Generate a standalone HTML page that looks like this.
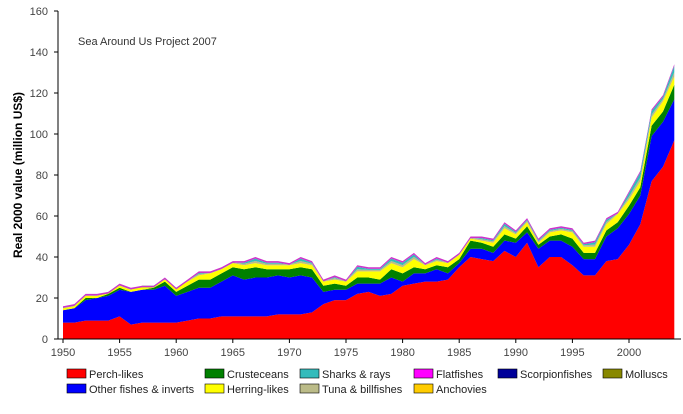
<!DOCTYPE html>
<html><head><meta charset="utf-8"><style>
body{margin:0;background:#fff;}
svg text{font-family:"Liberation Sans",Arial,sans-serif;}
</style></head><body>
<svg id="s" width="683" height="409" xmlns="http://www.w3.org/2000/svg">
<g id="areas"></g>
<line x1="58" y1="11" x2="58" y2="339" stroke="#000" stroke-width="1"/>
<line x1="58" y1="339" x2="681" y2="339" stroke="#000" stroke-width="1"/>
<g id="ticks" font-size="11" fill="#444"></g>
<text x="78" y="45" font-size="11" fill="#333">Sea Around Us Project 2007</text>
<text transform="translate(22,175) rotate(-90)" text-anchor="middle" font-size="12" font-weight="bold" fill="#000">Real 2000 value (million US$)</text>
<g font-size="11" fill="#222" stroke="#000" stroke-width="0.6">
<rect x="67" y="369" width="19" height="9" fill="#ff0000"/>
<rect x="67" y="384" width="19" height="9" fill="#0000ff"/>
<rect x="205" y="369" width="19" height="9" fill="#008000"/>
<rect x="205" y="384" width="19" height="9" fill="#ffff00"/>
<rect x="300" y="369" width="19" height="9" fill="#33bbbb"/>
<rect x="300" y="384" width="19" height="9" fill="#bbbb88"/>
<rect x="414" y="369" width="19" height="9" fill="#ff00ff"/>
<rect x="414" y="384" width="19" height="9" fill="#ffcc00"/>
<rect x="498" y="369" width="19" height="9" fill="#000099"/>
<rect x="603" y="369" width="19" height="9" fill="#888800"/>
</g>
<g font-size="11" fill="#222">
<text x="89" y="378">Perch-likes</text>
<text x="89" y="393">Other fishes &amp; inverts</text>
<text x="227" y="378">Crusteceans</text>
<text x="227" y="393">Herring-likes</text>
<text x="322" y="378">Sharks &amp; rays</text>
<text x="322" y="393">Tuna &amp; billfishes</text>
<text x="436" y="378">Flatfishes</text>
<text x="436" y="393">Anchovies</text>
<text x="520" y="378">Scorpionfishes</text>
<text x="625" y="378">Molluscs</text>
</g>
</svg>
<script>
var d=[[8,14,14,15,16],[8,15,15,16,17],[9,19,20,21,22],[9,20,20,21,22],[9,21,22,23,23],[11,24,25,26,27],[7,23,23,24,25],[8,24,24,26,26],[8,24,25,26,26],[8,26,28,29,30],[8,21,23,25,25],[9,23,26,28,29],[10,25,29,31,33],[10,25,29,32,33],[11,28,32,34,35],[11,31,35,37,38],[11,29,34,36,38],[11,30,35,37,40],[11,30,34,36,38],[12,31,34,36,38],[12,30,34,36,37],[12,31,35,37,40],[13,30,34,36,38],[17,23,26,28,29],[19,24,27,29,31],[19,24,26,28,29],[22,27,30,33,36],[23,27,30,33,35],[21,27,29,33,35],[22,30,34,37,40],[26,28,32,35,38],[27,32,35,39,42],[28,32,34,36,37],[28,34,36,38,40],[29,32,35,37,38],[35,37,39,41,42],[40,44,48,49,50],[39,44,47,48,50],[38,42,45,47,49],[43,48,51,54,57],[40,47,49,51,53],[47,52,55,57,59],[35,44,46,47,49],[40,48,50,52,54],[40,48,51,53,55],[36,45,49,52,54],[31,39,42,45,47],[31,39,42,45,48],[38,50,53,56,59],[39,54,57,61,62],[46,61,65,68,72],[56,70,74,77,82],[77,99,104,108,112],[84,106,111,116,119],[97,117,124,128,134]];
function X(i){return 63+i*11.32;}function Y(v){return 339-v*2.05;}
var ns="http://www.w3.org/2000/svg";
function layer(fa,fb,col){var p="";for(var i=0;i<d.length;i++)p+=(i?"L":"M")+X(i).toFixed(1)+","+Y(fb(d[i])).toFixed(1);for(var i=d.length-1;i>=0;i--)p+="L"+X(i).toFixed(1)+","+Y(fa(d[i])).toFixed(1);var e=document.createElementNS(ns,"path");e.setAttribute("d",p+"Z");e.setAttribute("fill",col);document.getElementById("areas").appendChild(e);}
layer(r=>0,r=>r[0],"#ff0000");
layer(r=>r[0],r=>r[1],"#0000ff");
layer(r=>r[1],r=>r[2],"#008000");
layer(r=>r[2],r=>r[3],"#ffff00");
layer(r=>r[3],r=>r[3]+(r[4]-r[3])*0.35,"#bbbb88");
layer(r=>r[3]+(r[4]-r[3])*0.35,r=>r[4]-0.8,"#33bbbb");
layer(r=>r[4]-0.8,r=>r[4],"#cc33cc");
var t=document.getElementById("ticks");
for(var v=0;v<=160;v+=20){var y=Y(v);t.innerHTML+='<line x1="54" x2="58" y1="'+y+'" y2="'+y+'" stroke="#000"/><text x="48" y="'+(y+4)+'" text-anchor="end">'+v+'</text>';}
for(var yr=1950;yr<=2000;yr+=5){var x=X(yr-1950);t.innerHTML+='<line x1="'+x+'" x2="'+x+'" y1="339" y2="343" stroke="#000"/><text x="'+x+'" y="356" text-anchor="middle">'+yr+'</text>';}
</script>
</body></html>
